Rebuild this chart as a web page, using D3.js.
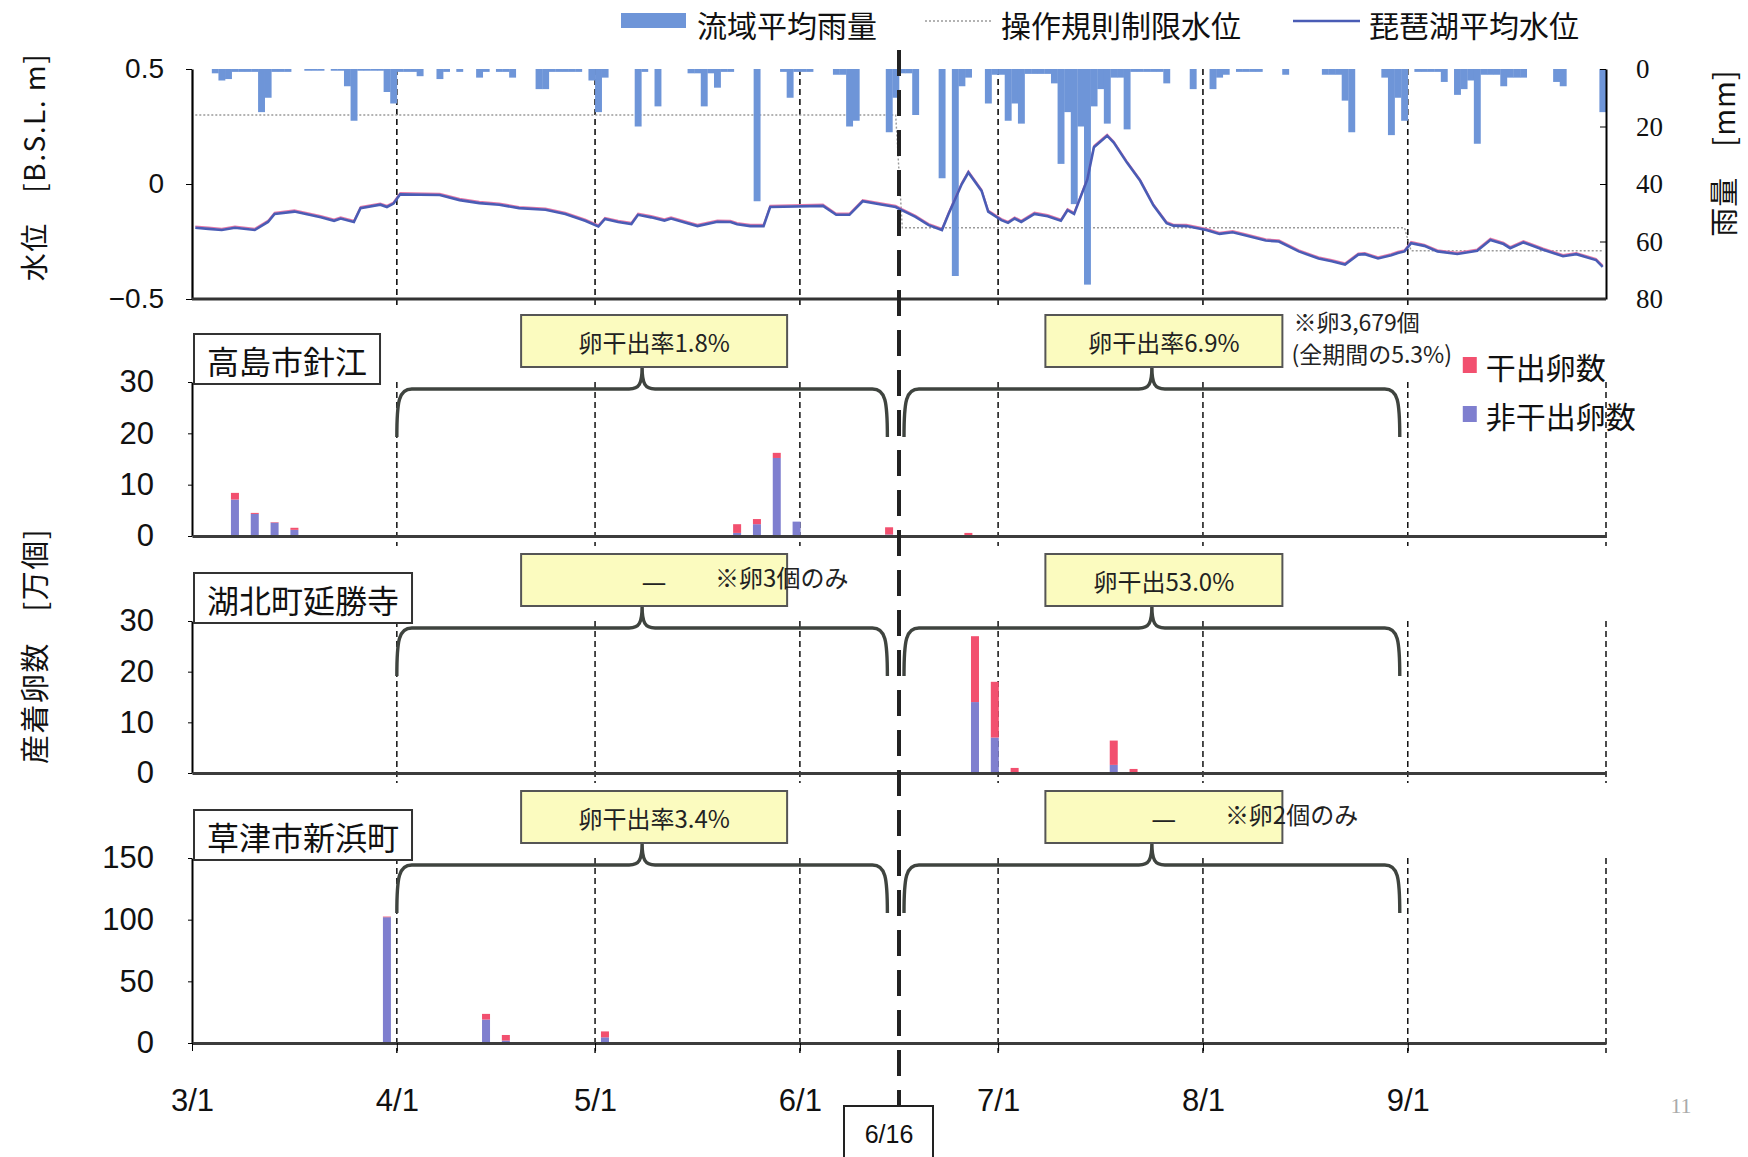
<!DOCTYPE html>
<html>
<head>
<meta charset="utf-8">
<script src="https://cdn.jsdelivr.net/npm/d3@7"></script>
<style>
  body { margin: 0; background: #fff; }
  svg { display: block; }
  .num { font-family: 'Liberation Sans Narrow', 'Liberation Sans', Arial, sans-serif; }
  .serif { font-family: 'Liberation Serif', 'DejaVu Serif', serif; }
</style>
</head>
<body>
<div id="chart"></div>
<script>
// ---- data ----
const monthTicks = ["3/1", "4/1", "5/1", "6/1", "7/1", "8/1", "9/1"];
const xStart = "3/1", xEnd = "10/1";
const ruleChange = "6/16";

// daily basin-average rainfall (mm), one array per month
const rainMar = [0,0,0,1.5,4,3.5,1,1,1,1,15,10,1,1,1,0,0,0.6,0.6,0.6,0,0.6,0.6,6,18,0.6,0.6,0.6,0.6,8,12];
const rainApr = [1,1,1,2.5,0,0,3.5,1,0,1,0,0,3,1,0,1,1,3,0,0,0,7,7,1,1,1,1,1,0,4];
const rainMay = [15,3,0,0,0,0,20,1,0,13,0,0,0,0,1.5,1.5,13,1.5,6.5,1,1,0,0,0,46,0,0,0,1,10,1];
const rainJun = [1,1,0,0,0,2,2,20,18,0,0,0,0,22,10,1.5,1.5,16,0,0,0,38,0,72,6,3,0,0,12,2];
const rainJul = [2,18,12,19,1.7,1.7,1.7,1.7,5,33,15,47,20,75,13,7,19,3,3,21,1,1,1,1,1,5,0,0,0,7,0];
const rainAug = [0,7,3,2,0,1,1,1,1,0,0,0,2,0,0,0,0,0,2,2,2,11,22,0,0,0,0,3,23,10,18];
const rainSep = [0,1,1,1,1,4.5,0,9,7,4,26,2,2,2,6,3,3,3,0,0,0,0,4.5,6,0,0,0,0,0,15];

// Lake Biwa mean water level (B.S.L. m)
const levelDates = ["3/1","3/3","3/5","3/7","3/10","3/12","3/13","3/16","3/20","3/22","3/23","3/25","3/26","3/29","3/30","3/31",
  "4/1","4/7","4/10","4/13","4/16","4/19","4/23","4/26","4/29",
  "5/1","5/2","5/4","5/6","5/7","5/9","5/11","5/12","5/16","5/19","5/21","5/22","5/24","5/26","5/27",
  "6/4","6/6","6/8","6/10","6/13","6/15","6/16","6/18","6/20","6/22","6/23","6/25","6/26","6/28","6/29",
  "7/1","7/2","7/3","7/4","7/6","7/8","7/10","7/11","7/12","7/14","7/15","7/17","7/18","7/20","7/22","7/24","7/26","7/27","7/29",
  "8/1","8/3","8/5","8/7","8/10","8/12","8/15","8/18","8/20","8/22","8/24","8/25","8/27","8/29","8/30","8/31",
  "9/1","9/3","9/5","9/8","9/11","9/13","9/15","9/16","9/18","9/20","9/21","9/24","9/26","9/29","9/30"];
const levelValues = [-0.19,-0.195,-0.2,-0.19,-0.2,-0.165,-0.13,-0.12,-0.145,-0.16,-0.15,-0.165,-0.105,-0.09,-0.1,-0.085,
  -0.045,-0.048,-0.07,-0.083,-0.09,-0.105,-0.112,-0.13,-0.16,
  -0.185,-0.152,-0.165,-0.174,-0.134,-0.145,-0.159,-0.15,-0.183,-0.164,-0.165,-0.175,-0.183,-0.183,-0.1,
  -0.095,-0.134,-0.134,-0.075,-0.09,-0.1,-0.115,-0.143,-0.179,-0.2,-0.13,0.0,0.05,-0.03,-0.12,
  -0.157,-0.169,-0.15,-0.165,-0.13,-0.14,-0.16,-0.114,-0.13,0.02,0.16,0.21,0.18,0.093,0.014,-0.093,-0.17,-0.181,-0.183,
  -0.2,-0.217,-0.21,-0.224,-0.246,-0.25,-0.293,-0.324,-0.336,-0.35,-0.307,-0.305,-0.324,-0.31,-0.3,-0.293,
  -0.257,-0.269,-0.293,-0.304,-0.29,-0.243,-0.261,-0.279,-0.254,-0.275,-0.286,-0.314,-0.305,-0.331,-0.36];

// operating-rule limit level (B.S.L. m)
const limitDates = ["3/1", "6/15", "6/16", "8/31", "9/1", "9/30"];
const limitValues = [0.3, 0.3, -0.19, -0.19, -0.29, -0.29];

// spawned eggs (10^4), wet = not exposed, dry = exposed
const sites = ["高島市針江", "湖北町延勝寺", "草津市新浜町"];
const takashimaDates = ["3/7","3/10","3/13","3/16","5/22","5/25","5/28","5/31","6/14","6/26"];
const takashimaWet = [7.1, 4.3, 2.6, 1.2, 0.6, 2.3, 15.2, 2.8, 0.3, 0];
const takashimaDry = [1.3, 0.2, 0.1, 0.4, 1.7, 1.0, 1.0, 0, 1.4, 0.6];
const kohokuDates = ["6/27","6/30","7/3","7/18","7/21"];
const kohokuWet = [14, 7, 0, 1.6, 0];
const kohokuDry = [13, 11, 1, 4.8, 0.8];
const kusatsuDates = ["3/30","4/14","4/17","5/2"];
const kusatsuWet = [102, 19, 2, 4.6];
const kusatsuDry = [0.5, 4.6, 4.5, 4.8];

const periodStarts = ["4/1", "6/16"];
const periodEnds = ["6/15", "9/1"];
const takashimaRates = ["卵干出率1.8%", "卵干出率6.9%"];
const kohokuRates = ["—", "卵干出53.0%"];
const kusatsuRates = ["卵干出率3.4%", "—"];

// ---- setup ----
const W = 1748, H = 1157;
const parse = d3.timeParse("%m/%d");
const svg = d3.select("#chart").append("svg")
  .attr("width", W).attr("height", H)
  .style("font-family", "'Noto Sans CJK JP', sans-serif");

const x = d3.scaleTime().domain([parse(xStart), parse(xEnd)]).range([192, 1606]);
const mid = d => d3.timeHour.offset(d, 12);
const wetColor = "#7f7fcf", dryColor = "#f2506f", rainColor = "#6e95d8";

// ---- top panel: water level + rainfall ----
const levelY = d3.scaleLinear().domain([-0.5, 0.5]).range([299, 69]);
const rainY = d3.scaleLinear().domain([0, 80]).range([69, 299]);
const topG = svg.append("g");

topG.selectAll(".vgrid").data(monthTicks.slice(1)).join("line")
  .attr("x1", d => x(parse(d))).attr("x2", d => x(parse(d)))
  .attr("y1", levelY(0.5)).attr("y2", levelY(-0.5) + 8)
  .attr("stroke", "#111").attr("stroke-width", 1.6).attr("stroke-dasharray", "6,4");

// limit level (dotted)
const limit = limitDates.map((d, i) => ({ date: parse(d), v: limitValues[i] }));
topG.append("path").datum(limit)
  .attr("fill", "none").attr("stroke", "#9a9a9a").attr("stroke-width", 1.4)
  .attr("stroke-dasharray", "2,2")
  .attr("d", d3.line().x(d => x(mid(d.date))).y(d => levelY(d.v)));

// rainfall bars hanging from the top
const rain = [];
[rainMar, rainApr, rainMay, rainJun, rainJul, rainAug, rainSep].forEach((arr, m) => {
  arr.forEach((v, i) => rain.push({ date: new Date(1900, m + 2, i + 1), v: v }));
});
topG.selectAll(".rain").data(rain.filter(d => d.v > 0)).join("rect")
  .attr("x", d => x(d.date))
  .attr("width", d => x(d3.timeDay.offset(d.date, 1)) - x(d.date) + 0.3)
  .attr("y", rainY(0))
  .attr("height", d => rainY(d.v) - rainY(0))
  .attr("fill", rainColor);

// level line
const level = levelDates.map((d, i) => ({ date: parse(d), v: levelValues[i] }));
const levelLine = d3.line().x(d => x(mid(d.date))).y(d => levelY(d.v));
topG.append("path").datum(level)
  .attr("fill", "none").attr("stroke", "#e77aa8").attr("stroke-width", 1.5)
  .attr("transform", "translate(0,-1.5)").attr("d", levelLine);
topG.append("path").datum(level)
  .attr("fill", "none").attr("stroke", "#4a5cb5").attr("stroke-width", 2.6)
  .attr("d", levelLine);

// axes
const leftAx = topG.append("g").attr("transform", `translate(${x(parse(xStart))},0)`)
  .call(d3.axisLeft(levelY).tickValues([-0.5, 0, 0.5]).tickSize(6).tickSizeOuter(0).tickPadding(22)
    .tickFormat(d => d < 0 ? "−" + Math.abs(d) : String(d)));
leftAx.selectAll("text").attr("class", "num").style("font-size", "28px").attr("fill", "#111");
leftAx.select(".domain").attr("stroke-width", 2.2);

const rightAx = topG.append("g").attr("transform", `translate(${x(parse(xEnd))},0)`)
  .call(d3.axisRight(rainY).tickValues([0, 20, 40, 60, 80]).tickSize(-6).tickSizeOuter(0).tickPadding(30));
rightAx.selectAll("text").attr("class", "serif").style("font-size", "27px").attr("fill", "#111");
rightAx.select(".domain").attr("stroke-width", 2);

topG.append("line")
  .attr("x1", x(parse(xStart))).attr("x2", x(parse(xEnd)))
  .attr("y1", levelY(-0.5)).attr("y2", levelY(-0.5))
  .attr("stroke", "#333").attr("stroke-width", 3);

// top legend
const lg = svg.append("g").style("font-size", "30px").attr("fill", "#111");
lg.append("rect").attr("x", 621).attr("y", 13).attr("width", 65).attr("height", 15).attr("fill", rainColor);
lg.append("text").attr("x", 697).attr("y", 24).attr("dominant-baseline", "central").text("流域平均雨量");
lg.append("line").attr("x1", 925).attr("x2", 992).attr("y1", 21).attr("y2", 21)
  .attr("stroke", "#9a9a9a").attr("stroke-width", 1.4).attr("stroke-dasharray", "2,2");
lg.append("text").attr("x", 1001).attr("y", 24).attr("dominant-baseline", "central").text("操作規則制限水位");
lg.append("line").attr("x1", 1293).attr("x2", 1360).attr("y1", 21).attr("y2", 21)
  .attr("stroke", "#4a5cb5").attr("stroke-width", 2.4);
lg.append("text").attr("x", 1369).attr("y", 24).attr("dominant-baseline", "central").text("琵琶湖平均水位");

// ---- egg panels ----
const panels = [
  { name: sites[0], dates: takashimaDates, wet: takashimaWet, dry: takashimaDry, max: 30, step: 10, top: 382, bottom: 536, rates: takashimaRates },
  { name: sites[1], dates: kohokuDates, wet: kohokuWet, dry: kohokuDry, max: 30, step: 10, top: 621, bottom: 773, rates: kohokuRates },
  { name: sites[2], dates: kusatsuDates, wet: kusatsuWet, dry: kusatsuDry, max: 150, step: 50, top: 858, bottom: 1043, rates: kusatsuRates }
];

function bracePath(x0, x1, yl, depth, tipY) {
  const xm = (x0 + x1) / 2;
  return `M${x0},${yl + depth} C${x0},${yl + 12} ${x0 + 2},${yl} ${x0 + 15},${yl}` +
    ` L${xm - 13},${yl} C${xm - 3},${yl} ${xm},${yl - 5} ${xm},${tipY}` +
    ` C${xm},${yl - 5} ${xm + 3},${yl} ${xm + 13},${yl}` +
    ` L${x1 - 15},${yl} C${x1 - 2},${yl} ${x1},${yl + 12} ${x1},${yl + depth}`;
}
const pads = [[0, -5], [5, -8]];
const boxW = [266, 237];

panels.forEach((p, pi) => {
  const y = d3.scaleLinear().domain([0, p.max]).range([p.bottom, p.top]);
  const g = svg.append("g");

  // month lines incl. right end
  g.selectAll(".vgrid").data(monthTicks.slice(1).concat([xEnd])).join("line")
    .attr("x1", d => x(parse(d))).attr("x2", d => x(parse(d)))
    .attr("y1", y(p.max)).attr("y2", y(0) + 10)
    .attr("stroke", "#111").attr("stroke-width", 1.5).attr("stroke-dasharray", "6,4");

  // stacked bars
  const bars = p.dates.map((d, i) => ({ date: parse(d), wet: p.wet[i], dry: p.dry[i] }));
  g.selectAll(".wet").data(bars).join("rect")
    .attr("x", d => x(mid(d.date)) - 4).attr("width", 8)
    .attr("y", d => y(d.wet)).attr("height", d => y(0) - y(d.wet))
    .attr("fill", wetColor);
  g.selectAll(".dry").data(bars).join("rect")
    .attr("x", d => x(mid(d.date)) - 4).attr("width", 8)
    .attr("y", d => y(d.wet + d.dry)).attr("height", d => y(d.wet) - y(d.wet + d.dry))
    .attr("fill", dryColor);

  // axes
  const ax = g.append("g").attr("transform", `translate(${x(parse(xStart))},0)`)
    .call(d3.axisLeft(y).tickValues(d3.range(0, p.max + 1, p.step)).tickSize(4).tickSizeOuter(0).tickPadding(34));
  ax.selectAll("text").attr("class", "num").style("font-size", "31px").attr("fill", "#111");
  ax.select(".domain").attr("stroke-width", 2);

  const bx = g.append("g").attr("transform", `translate(0,${y(0)})`)
    .call(d3.axisBottom(x).tickValues(monthTicks.map(parse)).tickSize(pi === 2 ? 8 : 0).tickSizeOuter(0)
      .tickPadding(38).tickFormat(pi === 2 ? d3.timeFormat("%-m/%-d") : ""));
  bx.select(".domain").attr("stroke", "#3c3c3c").attr("stroke-width", 3);
  bx.selectAll("text").attr("class", "num").style("font-size", "31px").attr("fill", "#111");

  // site name box
  const nb = g.append("g");
  const nt = nb.append("text").attr("x", 207).attr("y", p.top - 22)
    .attr("dominant-baseline", "central").style("font-size", "32px").attr("fill", "#111").text(p.name);
  const tw = nt.node().getComputedTextLength();
  nb.insert("rect", "text").attr("x", 194).attr("y", p.top - 48).attr("width", tw + 26).attr("height", 50)
    .attr("fill", "#fff").attr("stroke", "#333").attr("stroke-width", 2);

  // braces + rate boxes
  periodStarts.forEach((s, j) => {
    const x0 = x(parse(s)) + pads[j][0];
    const x1 = x(parse(periodEnds[j])) + pads[j][1];
    const xm = (x0 + x1) / 2;
    const yl = p.top + 7;
    g.append("path").attr("d", bracePath(x0, x1, yl, 48, p.top - 15))
      .attr("fill", "none").attr("stroke", "#3f443f").attr("stroke-width", 3.4);
    const cx = xm + 12;
    g.append("rect").attr("x", cx - boxW[j] / 2).attr("y", p.top - 67)
      .attr("width", boxW[j]).attr("height", 52)
      .attr("fill", "#fbfbbf").attr("stroke", "#555").attr("stroke-width", 2);
    const isDash = p.rates[j] === "—";
    g.append("text").attr("x", cx).attr("y", p.top - 41)
      .attr("text-anchor", "middle").attr("dominant-baseline", "central")
      .style("font-size", isDash ? "28px" : "24px").attr("fill", "#222").text(p.rates[j]);
    if (isDash) {
      g.append("text").attr("x", cx + 61).attr("y", p.top - 45)
        .attr("dominant-baseline", "central").style("font-size", "24px").attr("fill", "#222")
        .text(pi === 1 ? "※卵3個のみ" : "※卵2個のみ");
    }
    if (pi === 0 && j === 1) {
      g.append("text").attr("x", cx + boxW[j] / 2 + 11).attr("y", p.top - 61)
        .attr("dominant-baseline", "central").style("font-size", "23px").attr("fill", "#222").text("※卵3,679個");
      g.append("text").attr("x", cx + boxW[j] / 2 + 9).attr("y", p.top - 29)
        .attr("dominant-baseline", "central").style("font-size", "23px").attr("fill", "#222").text("(全期間の5.3%)");
    }
  });
});

// egg legend
const eg = svg.append("g").style("font-size", "30px").attr("fill", "#111");
const lx = x(parse("9/1")) + 55;
[["干出卵数", dryColor, 366], ["非干出卵数", wetColor, 415]].forEach(([t, c, cy]) => {
  eg.append("rect").attr("x", lx).attr("y", cy - 9).attr("width", 14).attr("height", 16).attr("fill", c);
  eg.append("text").attr("x", lx + 23).attr("y", cy).attr("dominant-baseline", "central").text(t);
});

// axis titles
svg.append("text").attr("transform", "translate(33,167) rotate(-90)")
  .attr("text-anchor", "middle").attr("dominant-baseline", "central")
  .style("font-size", "28px").style("letter-spacing", "1.5px").attr("fill", "#111").text("水位\u3000[B.S.L. m]");
svg.append("text").attr("transform", "translate(33,646) rotate(-90)")
  .attr("text-anchor", "middle").attr("dominant-baseline", "central")
  .style("font-size", "29px").style("letter-spacing", "1.5px").attr("fill", "#111").text("産着卵数\u3000[万個]");
svg.append("text").attr("transform", "translate(1722,153) rotate(-90)")
  .attr("text-anchor", "middle").attr("dominant-baseline", "central")
  .style("font-size", "29px").style("letter-spacing", "1px").attr("fill", "#111").text("雨量\u3000[mm]");

// rule change line (6/16)
const xr = x(parse(ruleChange));
svg.append("line").attr("x1", xr).attr("x2", xr).attr("y1", 50).attr("y2", 1106)
  .attr("stroke", "#222").attr("stroke-width", 4).attr("stroke-dasharray", "26,14");
svg.append("rect").attr("x", xr - 55).attr("y", 1106).attr("width", 89).attr("height", 60)
  .attr("fill", "#fff").attr("stroke", "#222").attr("stroke-width", 2);
svg.append("text").attr("x", xr - 10).attr("y", 1134).attr("text-anchor", "middle")
  .attr("dominant-baseline", "central").attr("class", "num").style("font-size", "25px").attr("fill", "#111")
  .text(ruleChange);

// page number
svg.append("text").attr("x", 1681).attr("y", 1113).attr("text-anchor", "middle")
  .attr("class", "serif").style("font-size", "22px").attr("fill", "#aaa").text("11");
</script>
</body>
</html>
